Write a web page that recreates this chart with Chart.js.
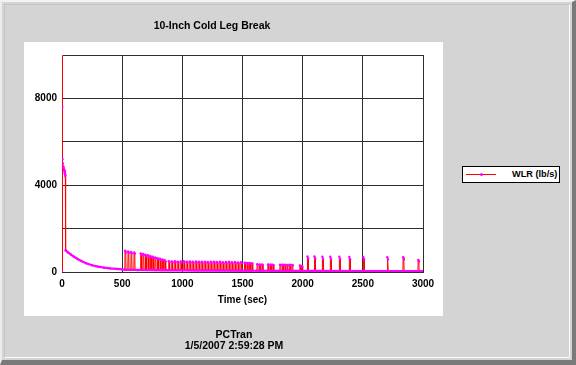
<!DOCTYPE html>
<html>
<head>
<meta charset="utf-8">
<script src="https://cdn.jsdelivr.net/npm/chart.js@4.4.1/dist/chart.umd.min.js"></script>
<style>
    html, body { margin: 0; padding: 0; }
    body {
        width: 576px; height: 365px; position: relative; overflow: hidden;
        background: #d4d4d4; color: #000;
        font-family: "Liberation Sans", Arial, sans-serif; font-weight: bold;
    }
    .frame {
        position: absolute; left: 0; top: 0; width: 576px; height: 365px; box-sizing: border-box;
        border-top: 2px solid #f2f2f2; border-left: 2px solid #ececec;
        border-right: 4px solid #7a7a7a; border-bottom: 5px solid #7a7a7a;
    }
    .inner {
        position: absolute; left: 2px; top: 2px; right: 2px; bottom: 2px;
        border-left: 1px solid #c4c4c4; border-top: 1px solid #c4c4c4;
        border-right: 1px solid #fbfbfb; border-bottom: 1px solid #fbfbfb;
    }
    .panel { position: absolute; left: 24px; top: 42px; width: 419px; height: 274px; background: #fff; }
    #wlrChart { position: absolute; left: 0; top: 0; }
    .txt { position: absolute; text-align: center; font-size: 10.5px; line-height: 12px; white-space: nowrap; }
    .legend {
        position: absolute; left: 462px; top: 166px; width: 96px; height: 15px;
        background: #fff; border: 1.5px solid #000;
    }
    .legend .line { position: absolute; left: 3px; top: 7px; width: 30px; height: 1px; background: #ff0000; }
    .legend .dot { position: absolute; left: 17px; top: 6px; width: 3px; height: 3px; border-radius: 50%; background: #ff00ff; }
    .legend .lbl { position: absolute; left: 49px; top: 1px; font-size: 9.2px; line-height: 13px; white-space: nowrap; }
</style>
</head>
<body>
<div class="frame"><div class="inner"></div></div>
<div class="panel"></div>
<canvas id="wlrChart" width="576" height="365"></canvas>

<div class="txt" style="left:112px; top:19px; width:200px;">10-Inch Cold Leg Break</div>
<div class="legend"><div class="line"></div><div class="dot"></div><div class="lbl">WLR (lb/s)</div></div>
<div class="txt" style="left:134px; top:328px; width:200px;">PCTran</div>
<div class="txt" style="left:134px; top:339px; width:200px;">1/5/2007 2:59:28 PM</div>

<script>
document.addEventListener( "DOMContentLoaded", () => {

    // Data
    // ----------------------------------------------
    const seriesLabel = 'WLR (lb/s)';
    const xTicks      = [0, 500, 1000, 1500, 2000, 2500, 3000];
    const yLabels     = [0, 4000, 8000];

    // blowdown: initial spike then smooth decay
    const blowdownTime = [0, 1, 3, 5, 8, 12, 18, 24, 28, 30, 35, 50, 75, 100, 130, 160, 200, 250, 300, 350, 400, 450, 500, 520];
    const blowdownWlr  = [0, 10000, 7600, 5200, 5000, 4850, 4700, 4550, 4450, 1000, 980, 900, 800, 700, 600, 510, 400, 310, 250, 200, 165, 140, 120, 110];

    // cycling: on/off spikes after 500 s
    const cycleTime = [
        522, 524, 530, 532,   547, 549, 555, 557,   572, 574, 580, 582,   597, 599, 605, 607,   630,
        652, 654, 660, 662,   672, 674, 680, 682,   692, 694, 700, 702,   712, 714, 720, 722,
        732, 734, 740, 742,   752, 754, 760, 762,   772, 774, 780, 782,   792, 794, 800, 802,
        812, 814, 820, 822,   832, 834, 840, 842,   852, 854, 860, 862,   875,
        885, 887, 893, 895,   910, 912, 918, 920,   935, 937, 943, 945,   960, 962, 968, 970,
        985, 987, 993, 995,   1010, 1012, 1018, 1020,   1035, 1037, 1043, 1045,   1060, 1062, 1068, 1070,
        1085, 1087, 1093, 1095,   1110, 1112, 1118, 1120,   1135, 1137, 1143, 1145,   1160, 1162, 1168, 1170,
        1185, 1187, 1193, 1195,   1210, 1212, 1218, 1220,   1235, 1237, 1243, 1245,   1260, 1262, 1268, 1270,
        1285, 1287, 1293, 1295,   1310, 1312, 1318, 1320,   1335, 1337, 1343, 1345,   1360, 1362, 1368, 1370,
        1385, 1387, 1393, 1395,   1410, 1412, 1418, 1420,   1435, 1437, 1443, 1445,   1460, 1462, 1468, 1470,
        1485, 1487, 1493, 1495,
        1515, 1517, 1523, 1525,   1535, 1537, 1543, 1545,   1555, 1557, 1563, 1565,   1575, 1577, 1583, 1585,
        1620, 1622, 1628, 1630,   1640, 1642, 1648, 1650,   1660, 1662, 1668, 1670,
        1710, 1712, 1718, 1720,   1730, 1732, 1738, 1740,   1750, 1752, 1758, 1760,
        1810, 1812, 1818, 1820,   1830, 1832, 1838, 1840,   1850, 1852, 1858, 1860,   1870, 1872, 1878, 1880,
        1890, 1892, 1898, 1900,   1910, 1912, 1918, 1920,   1975, 1977, 1983, 1985,   1990, 1992, 1998, 2000,
        2038, 2040, 2046, 2048,   2096, 2098, 2104, 2106,   2162, 2164, 2170, 2172,   2228, 2230, 2236, 2238,
        2303, 2305, 2311, 2313,   2386, 2388, 2394, 2396,   2502, 2504, 2510, 2512,   2701, 2703, 2709, 2711,
        2833, 2835, 2841, 2843,   2958, 2960, 2966, 2968,   3000
    ];
    const cycleWlr = [
        100, 980, 900, 100,   100, 950, 880, 100,   100, 920, 860, 100,   100, 900, 840, 100,   90,
        95, 860, 800, 95,     95, 830, 770, 95,     95, 800, 740, 90,     90, 770, 710, 90,
        90, 740, 690, 90,     90, 700, 650, 85,     85, 670, 620, 85,     85, 640, 600, 85,
        85, 610, 570, 80,     80, 580, 540, 80,     80, 540, 500, 80,     80,
        78, 500, 460, 78,     78, 490, 450, 78,     78, 500, 460, 76,     76, 480, 440, 76,
        76, 490, 450, 75,     75, 500, 460, 75,     75, 480, 440, 74,     74, 490, 450, 74,
        74, 470, 430, 72,     72, 490, 450, 72,     72, 480, 440, 70,     70, 470, 430, 70,
        70, 480, 440, 68,     68, 460, 420, 68,     68, 470, 430, 67,     67, 480, 440, 67,
        66, 460, 420, 66,     66, 470, 430, 65,     65, 450, 410, 65,     64, 460, 420, 64,
        64, 470, 430, 63,     63, 450, 410, 62,     62, 460, 420, 62,     61, 440, 400, 61,
        60, 450, 410, 60,
        58, 430, 400, 58,     58, 420, 390, 58,     57, 420, 390, 57,     57, 410, 380, 57,
        56, 360, 330, 56,     56, 350, 320, 56,     55, 350, 320, 55,
        55, 350, 320, 55,     54, 350, 320, 54,     54, 340, 310, 54,
        53, 340, 310, 53,     53, 340, 310, 53,     52, 340, 310, 52,     52, 330, 300, 52,
        51, 340, 310, 51,     51, 330, 300, 51,     50, 300, 270, 50,     50, 280, 250, 50,
        50, 720, 620, 50,     49, 720, 620, 49,     48, 700, 600, 48,     48, 700, 600, 47,
        47, 700, 600, 46,     46, 690, 590, 45,     45, 690, 590, 44,     44, 680, 580, 43,
        42, 680, 580, 42,     41, 560, 480, 40,     40
    ];



    // Colors
    // ----------------------------------------------
    const lineRed     = '#ff0000';
    const dotMagenta  = '#ff00ff';
    const gridColor   = '#2e2e2e';
    const tickFont    = { family: '"Liberation Sans", Arial, sans-serif', size: 10, weight: 'bold' };

    const points = blowdownTime.map( (t, i) => ({ x: t, y: blowdownWlr[i] }) )
        .concat( cycleTime.map( (t, i) => ({ x: t, y: cycleWlr[i] }) ) );

    // steep jumps and short spike tops red, slow trend magenta (dense markers on original)
    const isThin = ctx => {
        const dx = Math.abs( ctx.p1.parsed.x - ctx.p0.parsed.x ) || 0.001;
        const steep = Math.abs( ctx.p1.parsed.y - ctx.p0.parsed.y ) / dx > 30;
        return steep || ( dx < 8 && ctx.p0.parsed.x > 500 );
    };



    // Line Chart
    // ----------------------------------------------
    const wlrChart = new Chart(
        document.getElementById('wlrChart'), {
            type: 'line',
            data: {
                datasets: [
                    {
                        label: seriesLabel,
                        data: points,
                        borderColor: lineRed,
                        borderWidth: 1,
                        pointRadius: 1.2,
                        pointBorderWidth: 0,
                        pointBackgroundColor: dotMagenta,
                        pointBorderColor: dotMagenta,
                        tension: 0,
                        segment: {
                            borderColor: ctx => isThin( ctx ) ? lineRed : dotMagenta,
                            borderWidth: ctx => isThin( ctx ) ? 1 : 2.2
                        }
                    }
                ]
            },
            options : {
                responsive: false,
                animation: false,
                layout: {
                    padding: { left: 24, top: 55, right: 153, bottom: 59 }
                },
                plugins: {
                    legend: { display: false },
                    tooltip: { enabled: false }
                },
                scales: {
                    x: {
                        type: 'linear',
                        min: 0,
                        max: 3000,
                        afterBuildTicks: scale => { scale.ticks = xTicks.map( v => ({ value: v }) ); },
                        afterFit: scale => { scale.height = 34; },
                        grid: { color: gridColor, lineWidth: 1, drawTicks: false },
                        border: { color: gridColor },
                        ticks: {
                            font: tickFont,
                            color: '#000',
                            padding: 6,
                            maxRotation: 0,
                            callback: v => String( v )
                        },
                        title: {
                            display: true,
                            text: 'Time (sec)',
                            font: tickFont,
                            color: '#000',
                            padding: { top: 0, bottom: 0 }
                        }
                    },
                    y: {
                        min: 0,
                        max: 10000,
                        afterFit: scale => { scale.width = 38; },
                        grid: { color: gridColor, lineWidth: 1, drawTicks: false },
                        border: { color: gridColor },
                        ticks: {
                            stepSize: 2000,
                            font: tickFont,
                            color: '#000',
                            padding: 5,
                            callback: v => yLabels.includes( v ) ? String( v ) : ''
                        }
                    }
                }
            }
        }
    );

});
</script>
</body>
</html>
